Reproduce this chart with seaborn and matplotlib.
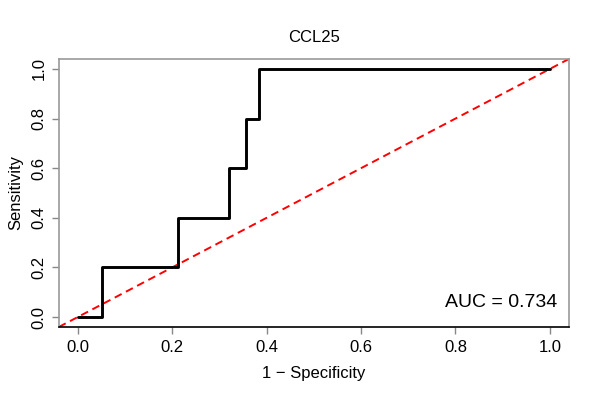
import numpy as np
import pandas as pd
import seaborn as sns
import matplotlib
matplotlib.use("Agg")
import matplotlib.pyplot as plt

# ROC curve points for CCL25
fpr = [0.0, 0.051, 0.213, 0.321, 0.357, 0.383, 1.0]
tpr = [0.0, 0.2, 0.4, 0.6, 0.8, 1.0, 1.0]
auc_value = 0.734
title = "CCL25"
ticks = [0.0, 0.2, 0.4, 0.6, 0.8, 1.0]

roc = pd.DataFrame({"fpr": fpr, "tpr": tpr})

sns.set_style("white")
plt.rcParams["font.family"] = ["Liberation Sans", "DejaVu Sans"]
plt.rcParams["text.color"] = "black"
plt.rcParams["axes.labelcolor"] = "black"
plt.rcParams["xtick.labelcolor"] = "black"
plt.rcParams["ytick.labelcolor"] = "black"

fig = plt.figure(figsize=(6, 4), dpi=100)
ax = fig.add_axes([0.098, 0.1825, 0.85, 0.67])

lims = (-0.04, 1.04)
sns.lineplot(x=[lims[0], lims[1]], y=[lims[0], lims[1]], ax=ax, color="red",
             linewidth=1.4, dashes=False, linestyle=(0, (4, 2.5)))
sns.lineplot(data=roc, x="fpr", y="tpr", ax=ax, color="black", linewidth=2.1,
             sort=False, estimator=None, drawstyle="steps-post")

ax.set_xlim(lims)
ax.set_ylim(lims)
ax.set_xticks(ticks)
ax.set_yticks(ticks)
ax.set_xticklabels([f"{t:.1f}" for t in ticks])
ax.set_yticklabels([f"{t:.1f}" for t in ticks], rotation=90, va="center")
ax.tick_params(axis="both", length=5, width=1, color="#888888",
               labelsize=12, labelcolor="black", pad=4, direction="out")
ax.tick_params(left=True, bottom=True)

for side in ["left", "right", "top"]:
    ax.spines[side].set_color("#999999")
    ax.spines[side].set_linewidth(1.2)
ax.spines["bottom"].set_color("black")
ax.spines["bottom"].set_linewidth(1.2)

ax.set_xlabel("1 \u2212 Specificity", fontsize=12, labelpad=8, color="black")
ax.set_ylabel("Sensitivity", fontsize=12, labelpad=6, color="black")
ax.set_title(title, fontsize=12, pad=12, color="black")

ax.text(1.015, 0.06, f"AUC = {auc_value:.3f}", ha="right", va="center",
        fontsize=14, color="black")

fig.savefig("out.png", dpi=100)
